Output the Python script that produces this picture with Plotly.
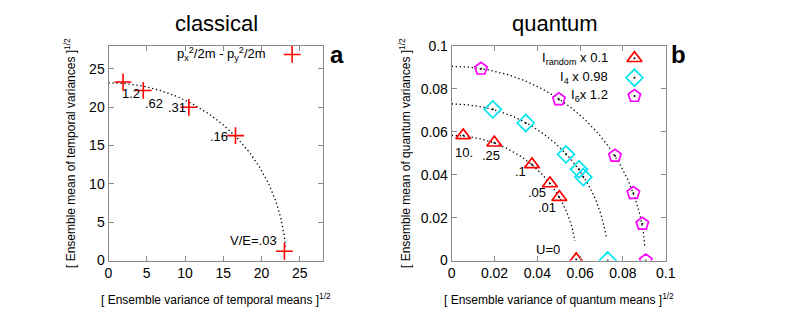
import numpy as np
import plotly.graph_objects as go

# ---------------- data ----------------
# classical panel (a)
cl_x = [1.9, 4.55, 10.5, 16.6, 23.0]
cl_y = [23.3, 22.2, 20.0, 16.3, 1.2]
cl_labels = ["1.2", ".62", ".31", ".16", "V/E=.03"]
cl_label_x = [3.0, 5.9, 8.9, 14.4, 19.0]
cl_label_y = [21.8, 20.5, 20.0, 16.2, 2.6]
cl_radius = 23.2
cl_end_angle_deg = 4.5

# quantum panel (b)
rand_x = [0.0054, 0.0199, 0.0375, 0.0459, 0.0503, 0.0582]
rand_y = [0.0583, 0.0549, 0.0448, 0.0359, 0.0295, 0.0005]
rand_labels = ["10.", ".25", ".1", ".05", ".01", "U=0"]
rand_label_x = [0.0057, 0.0182, 0.0322, 0.0397, 0.0444, 0.0451]
rand_label_y = [0.0505, 0.0490, 0.0417, 0.0315, 0.0245, 0.0051]

i4_x = [0.0192, 0.0346, 0.0534, 0.0595, 0.0615, 0.0729]
i4_y = [0.0705, 0.0641, 0.0495, 0.0425, 0.0389, 0.0000]

i6_x = [0.0137, 0.0501, 0.0763, 0.0849, 0.0891, 0.0907]
i6_y = [0.0894, 0.0751, 0.0488, 0.0314, 0.0171, 0.0000]

q_radii = [0.0583, 0.0730, 0.0905]
q_end_angles_deg = [9.0, 8.6, 3.8]

x1_ticks = [0, 5, 10, 15, 20, 25]
y1_ticks = [0, 5, 10, 15, 20, 25]
q_ticks = [0, 0.02, 0.04, 0.06, 0.08, 0.1]
q_tick_text = ["0", "0.02", "0.04", "0.06", "0.08", "0.1"]

legend_a = "p<sub>x</sub><sup>2</sup>/2m - p<sub>y</sub><sup>2</sup>/2m"
legend_b = ["I<sub>random</sub> x 0.1", "I<sub>4</sub> x 0.98", "I<sub>6</sub>x 1.2"]

# ---------------- styling ----------------
FONT = "Liberation Sans, Arial, Helvetica, sans-serif"
RED = "#ff0000"
CYAN = "#00e5ee"
MAG = "#ff00ff"
GRAY = "#8a8a8a"
DOTS = "1.3px,2.7px"


def arc(r, end_deg):
    t = np.linspace(np.pi / 2, np.deg2rad(end_deg), 160)
    return r * np.cos(t), r * np.sin(t)


fig = go.Figure()

# panel a curve
ax_, ay_ = arc(cl_radius, cl_end_angle_deg)
fig.add_trace(go.Scatter(x=ax_, y=ay_, mode="lines",
                         line=dict(color="black", width=1.3, dash=DOTS),
                         xaxis="x", yaxis="y", showlegend=False, hoverinfo="skip"))
fig.add_trace(go.Scatter(x=cl_x, y=cl_y, mode="markers",
                         marker=dict(symbol="cross-thin", size=12,
                                     line=dict(color=RED, width=1.6)),
                         xaxis="x", yaxis="y", showlegend=False))
# legend marker a
fig.add_trace(go.Scatter(x=[24.0], y=[26.9], mode="markers",
                         marker=dict(symbol="cross-thin", size=12,
                                     line=dict(color=RED, width=1.6)),
                         xaxis="x", yaxis="y", showlegend=False))

# panel b curves
for r, e in zip(q_radii, q_end_angles_deg):
    bx, by = arc(r, e)
    fig.add_trace(go.Scatter(x=bx, y=by, mode="lines",
                             line=dict(color="black", width=1.3, dash=DOTS),
                             xaxis="x2", yaxis="y2", showlegend=False, hoverinfo="skip"))

series_b = [
    (rand_x, rand_y, "triangle-up-open", RED, 13),
    (i4_x, i4_y, "diamond-open", CYAN, 13),
    (i6_x, i6_y, "pentagon-open", MAG, 13),
]
leg_y = [0.0943, 0.0852, 0.0767]
for (sx, sy, sym, col, sz), ly in zip(series_b, leg_y):
    fig.add_trace(go.Scatter(x=sx, y=sy, mode="markers",
                             marker=dict(symbol=sym, size=sz, color=col,
                                         line=dict(color=col, width=1.7)),
                             xaxis="x2", yaxis="y2", showlegend=False))
    fig.add_trace(go.Scatter(x=sx, y=sy, mode="markers",
                             marker=dict(symbol="circle", size=2, color="black"),
                             xaxis="x2", yaxis="y2", showlegend=False))
    fig.add_trace(go.Scatter(x=[0.0854], y=[ly], mode="markers",
                             marker=dict(symbol=sym, size=sz, color=col,
                                         line=dict(color=col, width=1.7)),
                             xaxis="x2", yaxis="y2", showlegend=False))
    fig.add_trace(go.Scatter(x=[0.0854], y=[ly], mode="markers",
                             marker=dict(symbol="circle", size=2, color="black"),
                             xaxis="x2", yaxis="y2", showlegend=False))

annotations = []


def ann(text, x, y, xref, yref, size=13, xanchor="center", angle=0):
    annotations.append(dict(text=text, x=x, y=y, xref=xref, yref=yref,
                            xanchor=xanchor, yanchor="middle", textangle=angle,
                            showarrow=False,
                            font=dict(size=size, color="black", family=FONT)))


for t, x, y in zip(cl_labels, cl_label_x, cl_label_y):
    ann(t, x, y, "x", "y")
for t, x, y in zip(rand_labels, rand_label_x, rand_label_y):
    ann(t, x, y, "x2", "y2")
ann(legend_a, 20.8, 26.9, "x", "y", xanchor="right")
for t, ly in zip(legend_b, leg_y):
    ann(t, 0.0738, ly, "x2", "y2", xanchor="right")

# titles
ann("classical", 216 / 802, 1 - 24 / 312, "paper", "paper", size=22)
ann("quantum", 555 / 802, 1 - 24 / 312, "paper", "paper", size=22)
# panel letters
ann("<b>a</b>", 337 / 802, 1 - 54 / 312, "paper", "paper", size=24)
ann("<b>b</b>", 678 / 802, 1 - 54 / 312, "paper", "paper", size=24)
# axis titles
ann("[ Ensemble variance of temporal means ]<sup>1/2</sup>", 216 / 802, 1 - 299 / 312,
    "paper", "paper", size=12)
ann("[ Ensemble mean of temporal variances ]<sup>1/2</sup>", 70 / 802, 1 - 153 / 312,
    "paper", "paper", size=12, angle=-90)
ann("[ Ensemble variance of quantum means ]<sup>1/2</sup>", 559 / 802, 1 - 299 / 312,
    "paper", "paper", size=12)
ann("[ Ensemble mean of quantum variances ]<sup>1/2</sup>", 405 / 802, 1 - 153 / 312,
    "paper", "paper", size=12, angle=-90)

axis_common = dict(showline=True, linecolor=GRAY, linewidth=1, mirror="ticks",
                   ticks="inside", ticklen=5, tickcolor=GRAY, tickwidth=1,
                   showgrid=False, zeroline=False, automargin=False,
                   tickfont=dict(size=14, color="black", family=FONT))

ydom = [(312 - 260.5) / 312, (312 - 46) / 312]
fig.update_layout(
    width=802, height=312, autosize=False,
    margin=dict(l=0, r=0, t=0, b=0, pad=0),
    paper_bgcolor="white", plot_bgcolor="white",
    xaxis=dict(domain=[108.5 / 802, 322.7 / 802], range=[0, 28], tickvals=x1_ticks,
               anchor="y", **axis_common),
    yaxis=dict(domain=ydom, range=[0, 28], tickvals=y1_ticks, anchor="x", **axis_common),
    xaxis2=dict(domain=[451.7 / 802, 665.7 / 802], range=[0, 0.1], tickvals=q_ticks,
                ticktext=q_tick_text, anchor="y2", **axis_common),
    yaxis2=dict(domain=ydom, range=[0, 0.1], tickvals=q_ticks, ticktext=q_tick_text,
                anchor="x2", **axis_common),
    annotations=annotations,
    showlegend=False,
)

fig.write_html("out.html", config={"responsive": False, "displayModeBar": False},
               post_script="document.body.style.margin='0';document.body.style.overflow='hidden';")
